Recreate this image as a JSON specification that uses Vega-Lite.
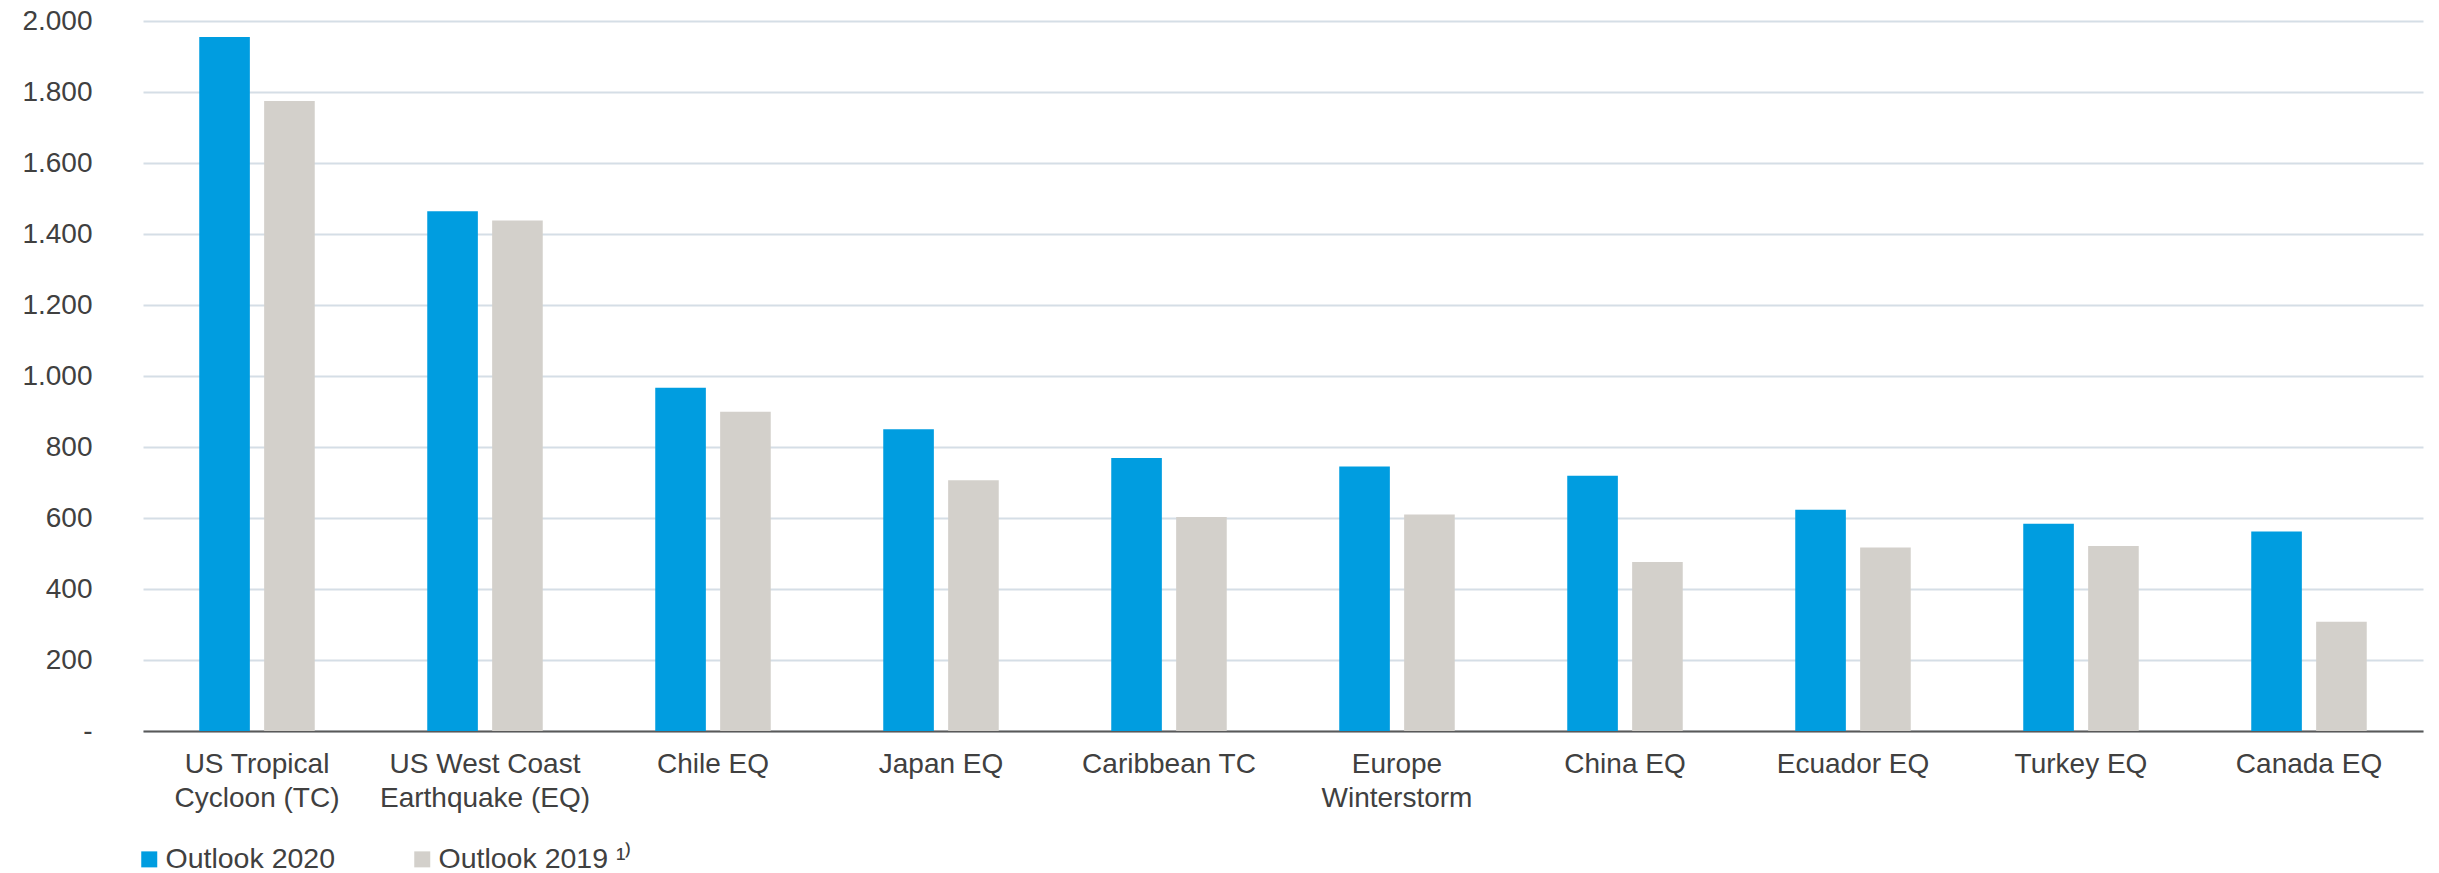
{
  "$schema": "https://vega.github.io/schema/vega-lite/v6.json",
  "width": 2280,
  "height": 710,
  "autosize": {"type": "none"},
  "padding": {"left": 143, "top": 21, "right": 16, "bottom": 142},
  "background": "white",
  "config": {
    "view": {"stroke": null},
    "font": "Liberation Sans",
    "axis": {"labelFont": "Liberation Sans", "labelColor": "#404040"},
    "legend": {"labelFont": "Liberation Sans", "labelColor": "#404040"}
  },
  "data": {
    "values": [
      {"peril": "US Tropical Cycloon (TC)", "series": "Outlook 2020", "value": 1955},
      {"peril": "US Tropical Cycloon (TC)", "series": "Outlook 2019", "value": 1775},
      {"peril": "US West Coast Earthquake (EQ)", "series": "Outlook 2020", "value": 1464},
      {"peril": "US West Coast Earthquake (EQ)", "series": "Outlook 2019", "value": 1438},
      {"peril": "Chile EQ", "series": "Outlook 2020", "value": 967},
      {"peril": "Chile EQ", "series": "Outlook 2019", "value": 899},
      {"peril": "Japan EQ", "series": "Outlook 2020", "value": 850},
      {"peril": "Japan EQ", "series": "Outlook 2019", "value": 706},
      {"peril": "Caribbean TC", "series": "Outlook 2020", "value": 769},
      {"peril": "Caribbean TC", "series": "Outlook 2019", "value": 603},
      {"peril": "Europe Winterstorm", "series": "Outlook 2020", "value": 745},
      {"peril": "Europe Winterstorm", "series": "Outlook 2019", "value": 610},
      {"peril": "China EQ", "series": "Outlook 2020", "value": 719},
      {"peril": "China EQ", "series": "Outlook 2019", "value": 476},
      {"peril": "Ecuador EQ", "series": "Outlook 2020", "value": 623},
      {"peril": "Ecuador EQ", "series": "Outlook 2019", "value": 517},
      {"peril": "Turkey EQ", "series": "Outlook 2020", "value": 584},
      {"peril": "Turkey EQ", "series": "Outlook 2019", "value": 521},
      {"peril": "Canada EQ", "series": "Outlook 2020", "value": 562},
      {"peril": "Canada EQ", "series": "Outlook 2019", "value": 308}
    ]
  },
  "mark": {"type": "bar"},
  "encoding": {
    "x": {
      "field": "peril",
      "type": "nominal",
      "sort": null,
      "scale": {"paddingInner": 0.4934, "paddingOuter": 0.2467},
      "axis": {
        "title": null,
        "labelAngle": 0,
        "labelFontSize": 28,
        "labelLineHeight": 34,
        "labelPadding": 19,
        "labelBaseline": "top",
        "ticks": false,
        "domainColor": "#595959",
        "domainWidth": 2,
        "grid": false,
        "labelLimit": 400,
        "labelExpr": "datum.value == 'US Tropical Cycloon (TC)' ? ['US Tropical', 'Cycloon (TC)'] : datum.value == 'US West Coast Earthquake (EQ)' ? ['US West Coast', 'Earthquake (EQ)'] : datum.value == 'Europe Winterstorm' ? ['Europe', 'Winterstorm'] : datum.label"
      }
    },
    "xOffset": {
      "field": "series",
      "type": "nominal",
      "sort": ["Outlook 2020", "Outlook 2019"],
      "scale": {"paddingInner": 0.22, "paddingOuter": 0}
    },
    "y": {
      "field": "value",
      "type": "quantitative",
      "scale": {"domain": [0, 2000], "nice": false},
      "axis": {
        "title": null,
        "values": [0, 200, 400, 600, 800, 1000, 1200, 1400, 1600, 1800, 2000],
        "labelFontSize": 28,
        "labelPadding": 51,
        "ticks": false,
        "domain": false,
        "gridColor": "#d5dee6",
        "gridWidth": 2,
        "labelExpr": "datum.value == 0 ? '-\u00a0\u00a0' : replace(format(datum.value, ',d'), ',', '.')"
      }
    },
    "color": {
      "field": "series",
      "type": "nominal",
      "sort": ["Outlook 2020", "Outlook 2019"],
      "scale": {"domain": ["Outlook 2020", "Outlook 2019"], "range": ["#009de0", "#d3d0cb"]},
      "legend": {
        "title": null,
        "orient": "none",
        "direction": "horizontal",
        "legendX": -8,
        "legendY": 824,
        "padding": 0,
        "symbolType": "square",
        "symbolSize": 256,
        "symbolStrokeWidth": 0,
        "symbolOpacity": 1,
        "labelFontSize": 28.5,
        "labelOffset": 2,
        "columnPadding": 72,
        "labelLimit": 400,
        "labelExpr": "datum.label == 'Outlook 2019' ? 'Outlook 2019 \u00b9\u207e' : datum.label"
      }
    }
  }
}
